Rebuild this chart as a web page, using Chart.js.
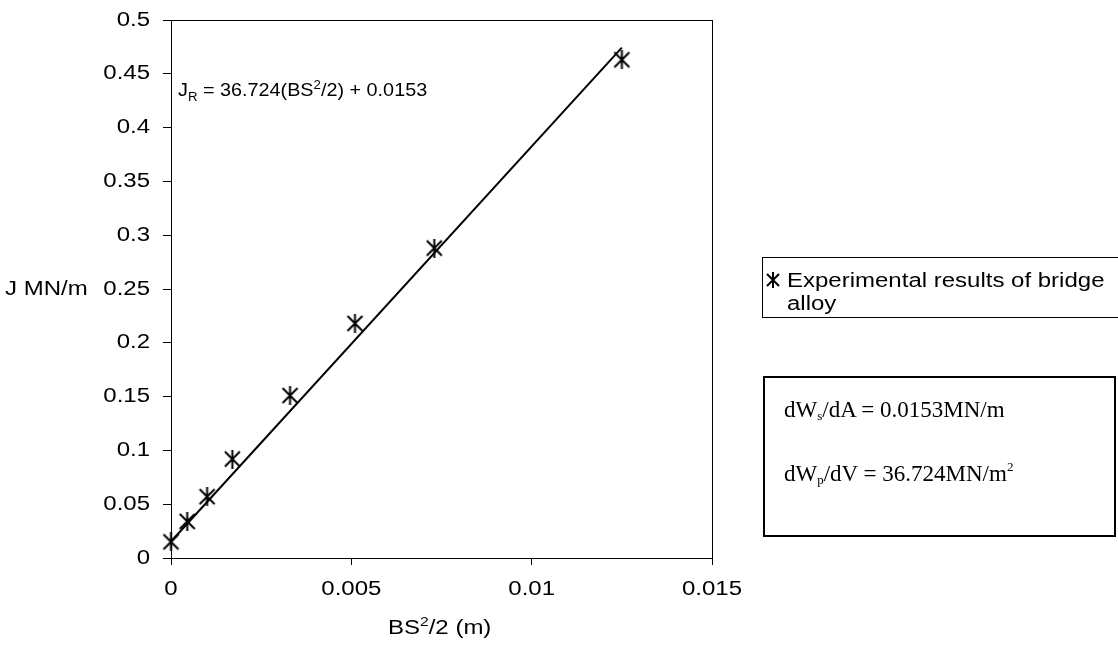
<!DOCTYPE html>
<html>
<head>
<meta charset="utf-8">
<script src="https://cdn.jsdelivr.net/npm/chart.js@4/dist/chart.umd.min.js"></script>
<style>
  html, body { margin: 0; padding: 0; background: #fff; }
  #wrap { position: relative; width: 1118px; height: 654px; overflow: hidden; font-family: "Liberation Sans", Arial, sans-serif; color: #000; }
  #chart { position: absolute; left: 0; top: 0; }
  .lbl { position: absolute; font-size: 20px; white-space: nowrap; line-height: 1; transform: scaleX(1.2); transform-origin: 0 50%; }
  .lbl sup, .lbl sub { font-size: 13px; }
  #eq { font-size: 18px; transform: scaleX(1.1); }
  #eq sup, #eq sub { font-size: 12px; }
  #legend { position: absolute; left: 762px; top: 257px; width: 360px; height: 61px; border: 1px solid #000; box-sizing: border-box; }
  #legend canvas { position: absolute; left: 2px; top: 14px; }
  #legend .txt { position: absolute; left: 24px; top: 11px; font-size: 20px; line-height: 23px; white-space: nowrap; transform: scaleX(1.2); transform-origin: 0 0; }
  #note { position: absolute; left: 763px; top: 376px; width: 353px; height: 161px; border: 2px solid #000; box-sizing: border-box;
          font-family: "Liberation Serif", "Times New Roman", serif; font-size: 23px; line-height: 1; }
  #note div { position: absolute; left: 19px; white-space: nowrap; }
  #note sub { font-size: 13px; vertical-align: -3px; }
  #note sup { font-size: 13px; vertical-align: 10px; }
</style>
</head>
<body>
<div id="wrap">
  <canvas id="chart" width="1118" height="654"></canvas>
  <div class="lbl" style="left:5px; top:278px;">J MN/m</div>
  <div class="lbl" id="eq" style="left:178px; top:79px;">J<sub>R</sub> = 36.724(BS<sup>2</sup>/2) + 0.0153</div>
  <div class="lbl" id="xtitle" style="left:388px; top:615px;">BS<sup>2</sup>/2 (m)</div>
  <div id="legend"><canvas id="legendMark" width="16" height="16"></canvas><div class="txt" id="legendText"></div></div>
  <div id="note">
    <div style="top:20px;">dW<sub>s</sub>/dA = 0.0153MN/m</div>
    <div style="top:82px;">dW<sub>p</sub>/dV = 36.724MN/m<sup>2</sup></div>
  </div>
</div>
<script>
// Measured J-integral against BS^2/2 for the bridge alloy
const bsHalf = [0, 0.00045, 0.001, 0.0017, 0.0033, 0.0051, 0.0073, 0.0125];
const jValues = [0.015, 0.034, 0.057, 0.092, 0.151, 0.218, 0.288, 0.463];

// Linear fit J_R = slope * (BS^2/2) + intercept
const slope = 36.724;
const intercept = 0.0153;

const xTicks = [0, 0.005, 0.01, 0.015];
const yTicks = [0, 0.05, 0.1, 0.15, 0.2, 0.25, 0.3, 0.35, 0.4, 0.45, 0.5];
const xTickLabels = ['0', '0.005', '0.01', '0.015'];
const yTickLabels = ['0', '0.05', '0.1', '0.15', '0.2', '0.25', '0.3', '0.35', '0.4', '0.45', '0.5'];

const seriesLabel = 'Experimental results of bridge alloy';

// Asterisk marker: an X crossed by a vertical stroke
function makeMarker(size, cnv) {
  const c = cnv || document.createElement('canvas');
  c.width = size; c.height = size;
  const g = c.getContext('2d');
  g.strokeStyle = '#000';
  g.lineWidth = 2;
  const m = 2;
  g.beginPath();
  g.moveTo(m, m); g.lineTo(size - m, size - m);
  g.moveTo(size - m, m); g.lineTo(m, size - m);
  g.moveTo(size / 2, 0); g.lineTo(size / 2, size);
  g.stroke();
  return c;
}
const marker = makeMarker(19);
makeMarker(16, document.getElementById('legendMark'));
document.getElementById('legendText').innerHTML = 'Experimental results of bridge<br>alloy';

const points = bsHalf.map((x, i) => ({ x: x, y: jValues[i] }));
const xEnd = Math.max(...bsHalf);
const fitLine = [0, xEnd].map(x => ({ x: x, y: slope * x + intercept }));

// Plot frame plus widened tick labels placed at the scale positions
const STRETCH = 1.2;
const labelFont = '20px "Liberation Sans", Arial, sans-serif';
const frame = {
  id: 'frame',
  afterDraw(chart) {
    const a = chart.chartArea, ctx = chart.ctx;
    ctx.save();
    ctx.strokeStyle = '#000';
    ctx.lineWidth = 1;
    ctx.strokeRect(Math.round(a.left) + 0.5, Math.round(a.top) + 0.5, Math.round(a.right - a.left), Math.round(a.bottom - a.top));

    ctx.fillStyle = '#000';
    ctx.font = labelFont;
    ctx.textBaseline = 'middle';
    const ys = chart.scales.y, xs = chart.scales.x;
    ctx.textAlign = 'right';
    yTicks.forEach((v, i) => {
      ctx.save();
      ctx.translate(a.left - 21, ys.getPixelForValue(v));
      ctx.scale(STRETCH, 1);
      ctx.fillText(yTickLabels[i], 0, 0);
      ctx.restore();
    });
    ctx.textAlign = 'center';
    xTicks.forEach((v, i) => {
      ctx.save();
      ctx.translate(xs.getPixelForValue(v), a.bottom + 31);
      ctx.scale(STRETCH, 1);
      ctx.fillText(xTickLabels[i], 0, 0);
      ctx.restore();
    });
    ctx.restore();
  }
};

new Chart(document.getElementById('chart'), {
  type: 'scatter',
  data: {
    datasets: [
      {
        label: seriesLabel,
        data: points,
        pointStyle: marker,
        pointRadius: 9,
        showLine: false,
        clip: false
      },
      {
        label: 'Linear fit',
        data: fitLine,
        showLine: true,
        borderColor: '#000',
        borderWidth: 2,
        pointRadius: 0,
        fill: false,
        clip: false
      }
    ]
  },
  options: {
    responsive: false,
    animation: false,
    layout: { padding: { left: 0, top: 20, right: 406, bottom: 0 } },
    plugins: { legend: { display: false }, tooltip: { enabled: false } },
    scales: {
      x: {
        type: 'linear',
        min: 0, max: 0.015,
        afterFit(s) { s.height = 96; },
        afterBuildTicks(s) { s.ticks = xTicks.map(v => ({ value: v })); },
        ticks: { display: false },
        grid: { drawOnChartArea: false, drawTicks: true, tickLength: 7, tickColor: '#000' },
        border: { color: '#000', width: 1 }
      },
      y: {
        type: 'linear',
        min: 0, max: 0.5,
        afterFit(s) { s.width = 171; },
        afterBuildTicks(s) { s.ticks = yTicks.map(v => ({ value: v })); },
        ticks: { display: false },
        grid: { drawOnChartArea: false, drawTicks: true, tickLength: 8, tickColor: '#000' },
        border: { color: '#000', width: 1 }
      }
    }
  },
  plugins: [frame]
});
</script>
</body>
</html>
